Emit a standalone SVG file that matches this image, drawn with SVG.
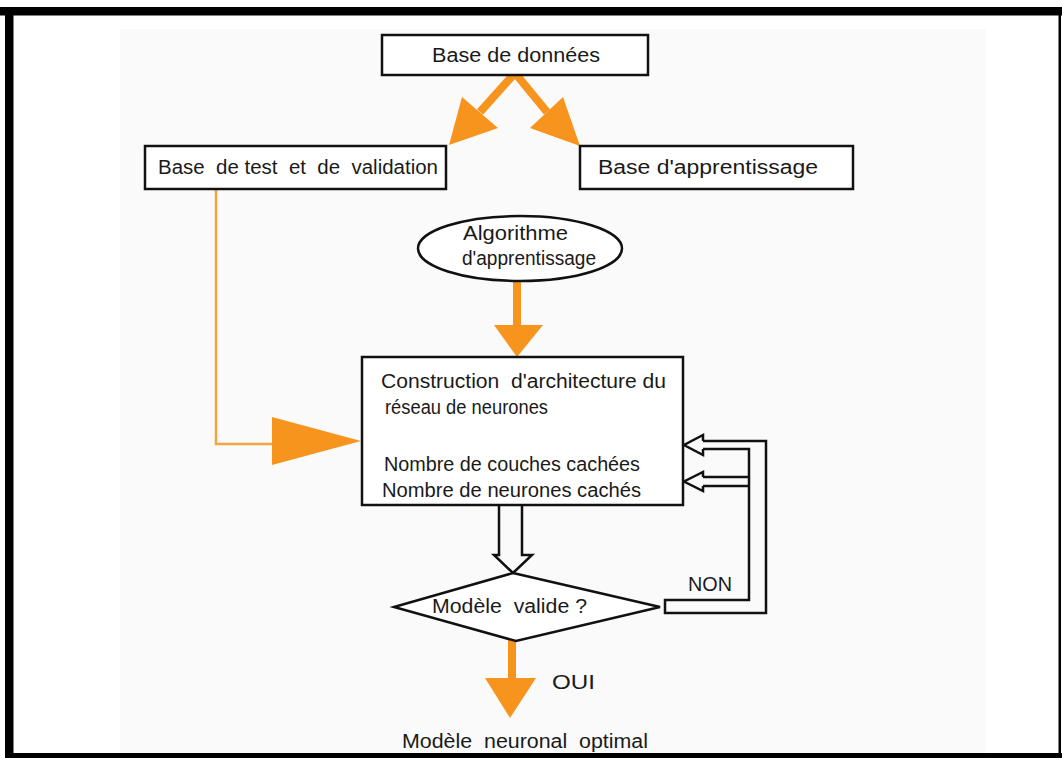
<svg xmlns="http://www.w3.org/2000/svg" width="1062" height="758" viewBox="0 0 1062 758">
<style>
.t{font-family:"Liberation Sans",Arial,sans-serif;font-size:20px;fill:#1a1a1a}
.box{fill:#fff;stroke:#111;stroke-width:2.5}
.ol{stroke:#f7941d;stroke-width:8;fill:none}
.oh{fill:#f7941d;stroke:none}
.hol{fill:none;stroke:#111;stroke-width:2.5;stroke-linejoin:miter}
</style>
<rect x="0" y="0" width="1062" height="758" fill="#fff"/>
<rect x="120" y="29" width="866" height="724" fill="#fafafa"/>
<g id="frame">
<rect x="0" y="7" width="1062" height="8.5" fill="#000"/>
<rect x="5" y="7" width="8.5" height="751" fill="#000"/>
<rect x="5" y="753" width="1057" height="5" fill="#000"/>
<rect x="1058.5" y="7" width="2.5" height="751" fill="#000"/>
</g>
<g id="connectors">
<line class="ol" x1="515" y1="73" x2="480" y2="112"/>
<polygon class="oh" points="449,145 462,97 498,128"/>
<line class="ol" x1="515" y1="73" x2="547" y2="112"/>
<polygon class="oh" points="580,146 563,97 530,128"/>
<polyline points="216,189 216,444 274,444" fill="none" stroke="#f2a540" stroke-width="2.5"/>
<polygon class="oh" points="272,417 272,465 361,441"/>
<line class="ol" x1="517" y1="281" x2="517" y2="326"/>
<polygon class="oh" points="494,325 543,325 517,357"/>
<path class="hol" d="M499,506 V555 H494 L513,573 L532,555 H522 V506"/>
<polyline class="hol" points="703,441 703,435 684,445 703,455 703,449"/>
<polyline class="hol" points="703,477 703,472 684,481.5 703,491 703,486"/>
<path class="hol" d="M703,441 H766 V613 H665 V600 H749 V449 H703"/>
<path class="hol" d="M703,477 H749 M703,486 H749"/>
<line class="ol" x1="512" y1="640" x2="512" y2="680"/>
<polygon class="oh" points="485,678 536,678 510,718"/>
</g>
<g id="n-bdd">
<rect class="box" x="382" y="35" width="266" height="40"/>
<text class="t" x="432" y="62" font-size="21" textLength="168" lengthAdjust="spacingAndGlyphs">Base de données</text>
</g>
<g id="n-test">
<rect class="box" x="145" y="146" width="301" height="43"/>
<text class="t" x="158" y="174" textLength="280" lengthAdjust="spacingAndGlyphs" xml:space="preserve">Base  de test  et  de  validation</text>
</g>
<g id="n-app">
<rect class="box" x="580" y="146" width="273" height="43"/>
<text class="t" x="598" y="174" font-size="21" textLength="220" lengthAdjust="spacingAndGlyphs">Base d'apprentissage</text>
</g>
<g id="n-algo">
<ellipse class="box" cx="520" cy="248.5" rx="102" ry="32.5" stroke-width="3"/>
<text class="t" x="463" y="240" font-size="21" textLength="105" lengthAdjust="spacingAndGlyphs">Algorithme</text>
<text class="t" x="462" y="265" font-size="21" textLength="134" lengthAdjust="spacingAndGlyphs">d'apprentissage</text>
</g>
<g id="n-constr">
<rect class="box" x="362" y="357" width="321" height="148"/>
<text class="t" x="381" y="388" textLength="285" lengthAdjust="spacingAndGlyphs" xml:space="preserve">Construction  d'architecture du</text>
<text class="t" x="385" y="414" textLength="163" lengthAdjust="spacingAndGlyphs">réseau de neurones</text>
<text class="t" x="384" y="471" textLength="256" lengthAdjust="spacingAndGlyphs">Nombre de couches cachées</text>
<text class="t" x="382" y="497" textLength="259" lengthAdjust="spacingAndGlyphs">Nombre de neurones cachés</text>
</g>
<g id="n-valide">
<polygon class="box" points="513,573 660,607 516,641 394,607"/>
<text class="t" x="432" y="613" textLength="155" lengthAdjust="spacingAndGlyphs" xml:space="preserve">Modèle  valide ?</text>
</g>
<g id="labels">
<text class="t" x="688" y="591" textLength="44" lengthAdjust="spacingAndGlyphs">NON</text>
<text class="t" x="552" y="689" font-size="22" textLength="43" lengthAdjust="spacingAndGlyphs">OUI</text>
</g>
<g id="n-optimal">
<text class="t" x="402" y="748" font-size="21" textLength="246" lengthAdjust="spacingAndGlyphs" xml:space="preserve">Modèle  neuronal  optimal</text>
</g>
</svg>
